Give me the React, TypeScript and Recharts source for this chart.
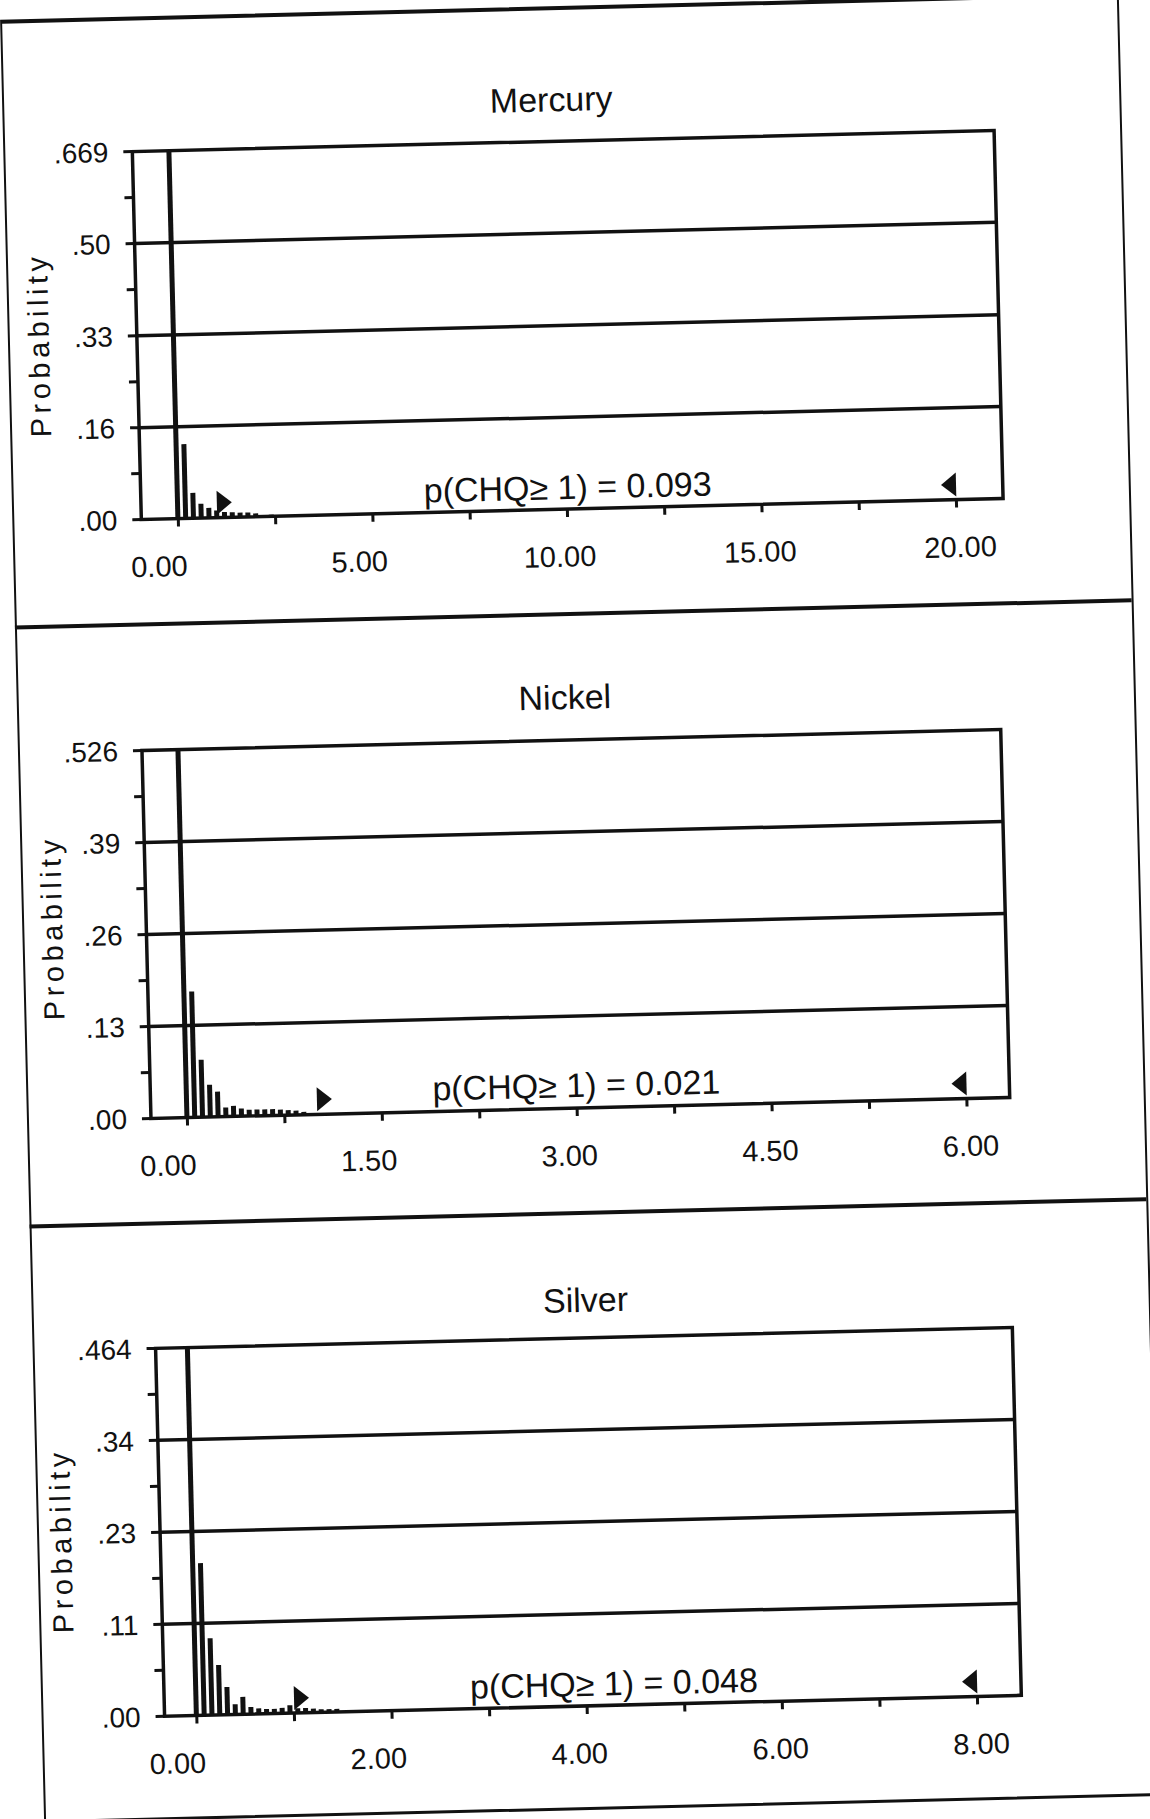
import React from 'react'
import {
  BarChart, Bar, XAxis, YAxis, ReferenceLine, ReferenceArea, ReferenceDot,
} from 'recharts'

const FONT = '"Liberation Sans", Arial, sans-serif'
const INK = '#111'

// ---- Mercury (bins of 0.2)
const mercuryX = [0, 0.2, 0.4, 0.6, 0.8, 1.0, 1.2, 1.4, 1.6, 1.8, 2.0, 2.4]
const mercuryP = [0.669, 0.135, 0.046, 0.026, 0.018, 0.013, 0.010, 0.009, 0.008, 0.008, 0.006, 0.003]
const mercuryYTicks = [0, 0.167, 0.334, 0.502, 0.669]
const mercuryYLabels = ['.00', '.16', '.33', '.50', '.669']
const mercuryXTicks = [0, 2.5, 5, 7.5, 10, 12.5, 15, 17.5, 20]
const mercuryXLabels = [0, 5, 10, 15, 20]
const mercuryRange = [1, 20]
const mercuryNote = 'p(CHQ\u2265 1) = 0.093'

// ---- Nickel (bins of 0.06)
const nickelX = [0, 0.06, 0.12, 0.18, 0.24, 0.30, 0.36, 0.42, 0.48, 0.54, 0.60, 0.66, 0.72, 0.78, 0.84, 0.90]
const nickelP = [0.526, 0.180, 0.082, 0.046, 0.036, 0.013, 0.015, 0.011, 0.009, 0.009, 0.009, 0.009, 0.008, 0.007, 0.006, 0.004]
const nickelYTicks = [0, 0.1315, 0.263, 0.3945, 0.526]
const nickelYLabels = ['.00', '.13', '.26', '.39', '.526']
const nickelXTicks = [0, 0.75, 1.5, 2.25, 3, 3.75, 4.5, 5.25, 6]
const nickelXLabels = [0, 1.5, 3, 4.5, 6]
const nickelRange = [1, 6]
const nickelNote = 'p(CHQ\u2265 1) = 0.021'

// ---- Silver (bins of 0.08)
const silverX = [0, 0.08, 0.16, 0.24, 0.32, 0.40, 0.48, 0.56, 0.64, 0.72, 0.80, 0.88, 0.96, 1.04, 1.12, 1.20, 1.28, 1.36, 1.44]
const silverP = [0.464, 0.192, 0.097, 0.063, 0.035, 0.013, 0.022, 0.009, 0.007, 0.006, 0.006, 0.007, 0.010, 0.006, 0.006, 0.005, 0.004, 0.004, 0.004]
const silverYTicks = [0, 0.116, 0.232, 0.348, 0.464]
const silverYLabels = ['.00', '.11', '.23', '.34', '.464']
const silverXTicks = [0, 1, 2, 3, 4, 5, 6, 7, 8]
const silverXLabels = [0, 2, 4, 6, 8]
const silverRange = [1, 8]
const silverNote = 'p(CHQ\u2265 1) = 0.048'

const PLOT_H = 368

const toRows = (xs: number[], ps: number[]) => xs.map((x, i) => ({ x, p: ps[i] }))

const panels = [
  {
    title: 'Mercury', rows: toRows(mercuryX, mercuryP), yTicks: mercuryYTicks, yLabels: mercuryYLabels,
    xTicks: mercuryXTicks, xLabels: mercuryXLabels, range: mercuryRange, note: mercuryNote,
    xDomain: [-0.95, 21.2], top: 141, left: 151, width: 862,
    titleX: 571, titleY: 99, noteX: 578, noteY: 487, probX: 53, probY: 332,
  },
  {
    title: 'Nickel', rows: toRows(nickelX, nickelP), yTicks: nickelYTicks, yLabels: nickelYLabels,
    xTicks: nickelXTicks, xLabels: nickelXLabels, range: nickelRange, note: nickelNote,
    xDomain: [-0.28, 6.33], top: 740, left: 146, width: 859,
    titleX: 570, titleY: 697, noteX: 572, noteY: 1085, probX: 52, probY: 915,
  },
  {
    title: 'Silver', rows: toRows(silverX, silverP), yTicks: silverYTicks, yLabels: silverYLabels,
    xTicks: silverXTicks, xLabels: silverXLabels, range: silverRange, note: silverNote,
    xDomain: [-0.33, 8.45], top: 1338, left: 145, width: 857,
    titleX: 576, titleY: 1300, noteX: 595, noteY: 1684, probX: 46, probY: 1528,
  },
]

const XTick = ({ x, y, payload, labels, max }: any) => {
  const v = payload.value
  if (!labels.includes(v)) return <g />
  const dx = -20 + 23 * (v / max)
  return (
    <text x={x + dx} y={y} dy="0.71em" textAnchor="middle" fontSize={29} fontFamily={FONT} fill={INK}>
      {v.toFixed(2)}
    </text>
  )
}

// range grabbers sitting on the baseline
const RightTri = (props: any) => {
  const { cx, cy } = props
  return <path d={`M${cx},${cy - 3} L${cx},${cy - 27} L${cx + 15},${cy - 15} Z`} fill={INK} />
}
const LeftTri = (props: any) => {
  const { cx, cy } = props
  return <path d={`M${cx},${cy - 3} L${cx},${cy - 27} L${cx - 15},${cy - 15} Z`} fill={INK} />
}

function Panel({ cfg }: { cfg: typeof panels[number] }) {
  const ymax = cfg.yTicks[cfg.yTicks.length - 1]
  const xmax = cfg.xLabels[cfg.xLabels.length - 1]
  const minor = cfg.yTicks.slice(1).map((v, i) => (v + cfg.yTicks[i]) / 2)
  const allY = [...cfg.yTicks, ...minor].sort((a, b) => a - b)
  const chartTop = cfg.top - 40
  return (
    <>
      <div style={{
        position: 'absolute', left: cfg.titleX - 200, width: 400, top: cfg.titleY - 20, lineHeight: '40px',
        textAlign: 'center', fontFamily: FONT, fontSize: 34, color: INK,
      }}>{cfg.title}</div>
      <div style={{
        position: 'absolute', left: cfg.probX - 150, width: 300, top: cfg.probY - 18, lineHeight: '36px',
        textAlign: 'center', fontFamily: FONT, fontSize: 29, letterSpacing: 4.5, color: INK,
        transform: 'rotate(-90deg)',
      }}>Probability</div>
      <div style={{ position: 'absolute', left: 0, top: chartTop }}>
        <BarChart
          width={1150}
          height={40 + PLOT_H + 70}
          data={cfg.rows}
          margin={{ top: 40, right: 1150 - cfg.left - cfg.width, bottom: 10, left: cfg.left - 80 }}
          barSize={5}
        >
          <XAxis
            type="number" dataKey="x" domain={cfg.xDomain} ticks={cfg.xTicks} interval={0} allowDataOverflow
            height={60} axisLine={false} tickSize={8} tickMargin={29}
            tickLine={{ stroke: INK, strokeWidth: 3 }}
            tick={(p: any) => <XTick {...p} labels={cfg.xLabels} max={xmax} />}
          />
          <YAxis
            type="number" domain={[0, ymax]} ticks={allY} interval={0} allowDataOverflow
            width={80} axisLine={false} tickSize={9} tickMargin={15}
            tickLine={{ stroke: INK, strokeWidth: 3 }}
            tick={{ fontSize: 28, fill: INK, fontFamily: FONT }}
            tickFormatter={(v: number) => {
              const i = cfg.yTicks.indexOf(v)
              return i >= 0 ? cfg.yLabels[i] : ''
            }}
          />
          {cfg.yTicks.slice(1, -1).map((v) => (
            <ReferenceLine key={v} y={v} stroke={INK} strokeWidth={3.5} />
          ))}
          <ReferenceArea
            x1={cfg.xDomain[0]} x2={cfg.xDomain[1]} y1={0} y2={ymax}
            fill="none" fillOpacity={0} stroke={INK} strokeWidth={3.5}
          />
          <Bar dataKey="p" fill={INK} isAnimationActive={false} />
          <ReferenceDot x={cfg.range[0]} y={0} r={1} shape={RightTri} />
          <ReferenceDot x={cfg.range[1]} y={0} r={1} shape={LeftTri} />
        </BarChart>
      </div>
      <div style={{
        position: 'absolute', left: cfg.noteX - 250, width: 500, top: cfg.noteY - 20, lineHeight: '40px',
        textAlign: 'center', fontFamily: FONT, fontSize: 34, color: INK, whiteSpace: 'nowrap',
      }}>{cfg.note}</div>
    </>
  )
}

export default function App() {
  return (
    <div style={{ position: 'absolute', left: 0, top: 0, width: 1150, height: 1819, overflow: 'hidden', background: '#fff' }}>
      <div style={{
        position: 'absolute', left: 0, top: 0, width: 1150, height: 1819,
        transform: 'rotate(-1.4deg)', transformOrigin: '575px 910px',
      }}>
        {/* page frame and panel dividers */}
        <div style={{ position: 'absolute', left: 22, top: 6, width: 1115, height: 1797, borderLeft: `2.5px solid ${INK}`, borderRight: `2.5px solid ${INK}`, borderTop: `4px solid ${INK}`, borderBottom: `3px solid ${INK}` }} />
        <div style={{ position: 'absolute', left: 22, top: 612, width: 1117, height: 3.5, background: INK }} />
        <div style={{ position: 'absolute', left: 22, top: 1211, width: 1117, height: 3.5, background: INK }} />
        {panels.map((p) => <Panel key={p.title} cfg={p} />)}
      </div>
    </div>
  )
}
